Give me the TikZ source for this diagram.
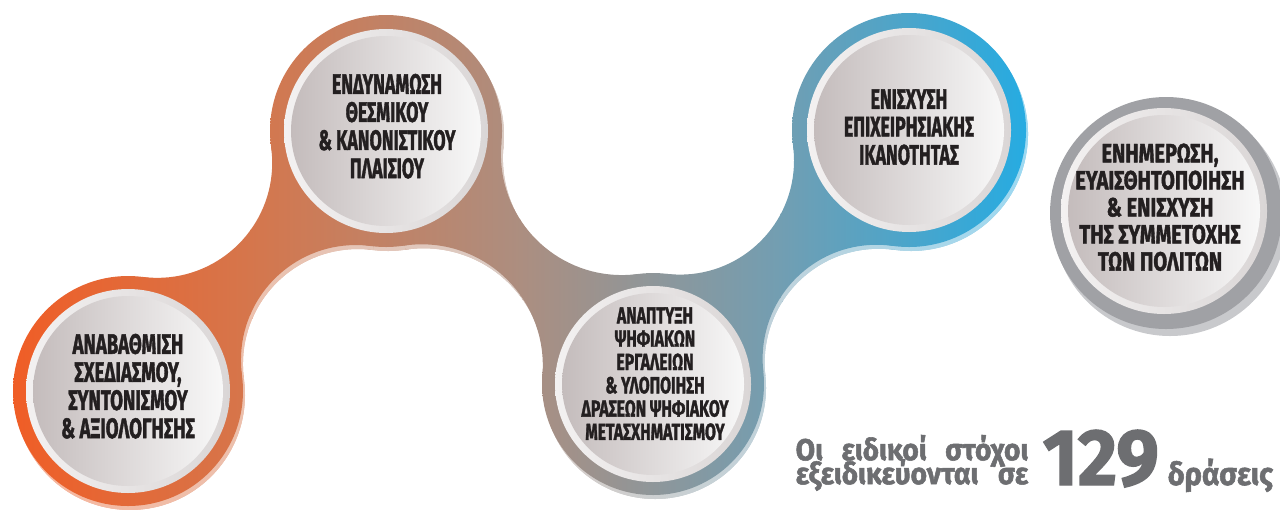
\documentclass[tikz,border=0pt]{standalone}
\usepackage{fontspec}
\usepackage{graphicx}
\setmainfont{Fira Sans}
\newfontfamily\goalfont[BoldFeatures={FakeBold=1.8}]{Fira Sans}
\usetikzlibrary{intersections}

\definecolor{bandA}{RGB}{241,92,36}
\definecolor{bandB}{RGB}{213,118,76}
\definecolor{bandC}{RGB}{172,142,128}
\definecolor{bandD}{RGB}{114,158,178}
\definecolor{bandE}{RGB}{34,172,228}
\definecolor{diskL}{RGB}{196,188,188}
\definecolor{diskR}{RGB}{248,248,248}
\definecolor{rimL}{RGB}{243,241,241}
\definecolor{rimR}{RGB}{218,214,214}
\definecolor{ringgrey}{RGB}{160,161,165}
\definecolor{ringshade}{RGB}{200,201,204}
\definecolor{notegrey}{RGB}{109,110,113}
\definecolor{ink}{RGB}{35,31,32}

% colour run of the band, painted inside a clip
\newcommand{\bandfill}{%
  \shade[left color=bandA,right color=bandB] (0,0) rectangle (251,509);
  \shade[left color=bandB,right color=bandC] (250,0) rectangle (521,509);
  \shade[left color=bandC,right color=bandD] (520,0) rectangle (781,509);
  \shade[left color=bandD,right color=bandE] (780,0) rectangle (1040,509);
}

% circles and necks of the band
\newcommand{\bandpieces}[1]{%
  \foreach \p/\r in {c1/115,c2/116,c3/111,c4/117}{
    \begin{scope}
      \clip (\p) circle[radius=\r];
      #1
    \end{scope}
  }
  \foreach \a/\b/\ra/\rb/\q in {c1/c2/115/116/115,c2/c3/116/111/121,c3/c4/111/117/114}{
    \path[name path=near] (\a) circle[radius=\ra+\q];
    \path[name path=far] (\b) circle[radius=\rb+\q];
    \path[name intersections={of=near and far,name=cut}];
    \begin{scope}[even odd rule]
      \clip (\a) -- (cut-1) -- (\b) -- (cut-2) -- cycle;
      \clip (-200,-200) rectangle (1500,800)
        (cut-1) circle[radius=\q] (cut-2) circle[radius=\q];
      #1
    \end{scope}
  }
}

% narrow setting of a block of lines
\newcommand{\squeeze}[2][0.65]{\scalebox{#1}[1]{\begin{tabular}{@{}c@{}}#2\end{tabular}}}

\begin{document}
\begin{tikzpicture}[x=0.01cm,y=-0.01cm,
    goal/.style={text=ink,inner sep=0pt,
      font=\goalfont\bfseries\fontsize{8}{7.7}\selectfont},
    small goal/.style={goal,font=\goalfont\bfseries\fontsize{6.6}{6.45}\selectfont},
    note/.style={text=notegrey,inner sep=0pt,anchor=base west,
      font=\goalfont\bfseries\fontsize{9}{9}\selectfont}]
  \useasboundingbox (0,0) rectangle (1280,509);

  \coordinate (c1) at (128,391);
  \coordinate (c2) at (386,131);
  \coordinate (c3) at (653,384);
  \coordinate (c4) at (909,130);
  \coordinate (c5) at (1164,211);

  % band with its light under-edge
  \begin{scope}[transform canvas={shift={(2,4)}}]
    \bandpieces{\bandfill\fill[white,opacity=0.55] (-200,-200) rectangle (1500,800);}
  \end{scope}
  \bandpieces{\bandfill}

  % grey ring on its own
  \fill[ringshade] (1170,219) circle[radius=117];
  \fill[ringgrey] (1166,213) circle[radius=116];

  % white rims and discs
  \foreach \p/\r in {c1/102,c2/102,c3/98,c4/102,c5/103}{
    \shade[left color=rimL,right color=rimR] (\p) circle[radius=\r];
    \shade[left color=diskL,right color=diskR] (\p) circle[radius=\r-7];
  }

  \node[goal] (planning) at (128,390) {\squeeze[0.66]{ΑΝΑΒΑΘΜΙΣΗ\\ΣΧΕΔΙΑΣΜΟΥ,\\ΣΥΝΤΟΝΙΣΜΟΥ\\\& ΑΞΙΟΛΟΓΗΣΗΣ}};
  \node[goal] (framework) at (387,130) {\squeeze[0.63]{ΕΝΔΥΝΑΜΩΣΗ\\ΘΕΣΜΙΚΟΥ\\\& ΚΑΝΟΝΙΣΤΙΚΟΥ\\ΠΛΑΙΣΙΟΥ}};
  \node[small goal] (digital) at (655,377) {\squeeze[0.68]{ΑΝΑΠΤΥΞΗ\\ΨΗΦΙΑΚΩΝ\\ΕΡΓΑΛΕΙΩΝ\\\& ΥΛΟΠΟΙΗΣΗ\\ΔΡΑΣΕΩΝ ΨΗΦΙΑΚΟΥ\\ΜΕΤΑΣΧΗΜΑΤΙΣΜΟΥ}};
  \node[goal] (capacity) at (909,131) {\squeeze[0.63]{ΕΝΙΣΧΥΣΗ\\ΕΠΙΧΕΙΡΗΣΙΑΚΗΣ\\ΙΚΑΝΟΤΗΤΑΣ}};
  \node[goal,font=\goalfont\bfseries\fontsize{7.5}{7.7}\selectfont] (citizens) at (1160,211)
    {\squeeze[0.76]{ΕΝΗΜΕΡΩΣΗ,\\ΕΥΑΙΣΘΗΤΟΠΟΙΗΣΗ\\\& ΕΝΙΣΧΥΣΗ\\ΤΗΣ ΣΥΜΜΕΤΟΧΗΣ\\ΤΩΝ ΠΟΛΙΤΩΝ}};

  \node[note,font=\goalfont\bfseries\fontsize{8.6}{6.8}\selectfont,anchor=south west] (aims) at (795,492)
    {\scalebox{0.93}[1]{\begin{tabular}{@{}l@{}}\smash{\makebox[2.5cm][s]{Οι ειδικοί στόχοι}}\\\smash{\makebox[2.5cm][s]{εξειδικεύονται σε}}\end{tabular}}};
  \node[note,font=\goalfont\bfseries\fontsize{22.7}{22.7}\selectfont] (count) at (1042,485) {\scalebox{0.95}[1]{129}};
  \node[note] (actions) at (1167,485) {\scalebox{0.93}[1]{δράσεις}};
\end{tikzpicture}
\end{document}
